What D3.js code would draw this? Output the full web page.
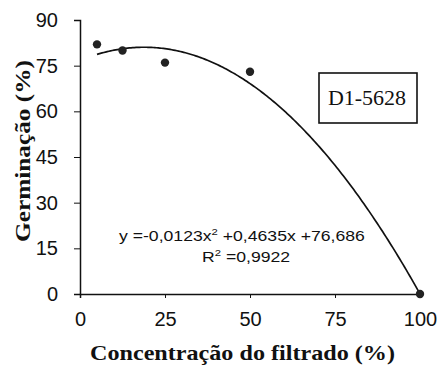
<!DOCTYPE html>
<html><head><meta charset="utf-8">
<script src="https://cdn.jsdelivr.net/npm/d3@7"></script>
<style>body{margin:0;background:#fff}svg{display:block}</style>
</head><body><svg id="c" width="441" height="366"></svg>
<script>
const concentrations = [5, 12.5, 25, 50, 100];
const germination = [82, 80, 76, 73, 0];
const xTicks = [0, 25, 50, 75, 100];
const yTicks = [0, 15, 30, 45, 60, 75, 90];
const coefs = [-0.0123, 0.4635, 76.686];
const fitRange = [5, 100];
const label = "D1-5628";

const svg = d3.select("#c");
const x = d3.scaleLinear().domain([0, 100]).range([80, 420]);
const y = d3.scaleLinear().domain([0, 90]).range([294, 20]);
const sans = "Arial, 'Liberation Sans', sans-serif";
const serif = "'Times New Roman', 'Liberation Serif', serif";

const yAxis = svg.append("g").attr("transform", "translate(80,0)")
  .call(d3.axisLeft(y).tickValues(yTicks).tickSize(6).tickPadding(16));
const xAxis = svg.append("g").attr("transform", "translate(0,294)")
  .call(d3.axisBottom(x).tickValues(xTicks).tickSize(4).tickPadding(14));
[yAxis, xAxis].forEach(a => {
  a.select(".domain").attr("stroke", "#111").attr("stroke-width", 1.5);
  a.selectAll(".tick line").attr("stroke", "#111").attr("stroke-width", 1);
  a.selectAll("text").attr("font-family", sans).attr("font-size", 20).attr("fill", "#111");
});
xAxis.selectAll(".tick").filter(d => d === 0 || d === 100).select("line").remove();

// fitted curve
const fx = xv => coefs[0] * xv * xv + coefs[1] * xv + coefs[2];
const pts = d3.range(fitRange[0], fitRange[1] + 0.001, 0.5).map(v => [v, fx(v)]);
svg.append("path").attr("d", d3.line().x(d => x(d[0])).y(d => y(d[1]))(pts))
  .attr("fill", "none").attr("stroke", "#111").attr("stroke-width", 1.7);

// points
svg.selectAll("circle.p").data(concentrations).join("circle")
  .attr("cx", d => x(d)).attr("cy", (d, i) => y(germination[i])).attr("r", 4.2).attr("fill", "#222");

// label box
svg.append("rect").attr("x", 319).attr("y", 73).attr("width", 98).attr("height", 50)
  .attr("fill", "#fff").attr("stroke", "#111").attr("stroke-width", 1.6);
svg.append("text").attr("x", 367).attr("y", 105).attr("text-anchor", "middle")
  .attr("font-family", serif).attr("font-size", 22).attr("fill", "#111").text(label);

// equation
const eq = svg.append("text").attr("transform", "translate(119,241) scale(1.26,1)")
  .attr("font-family", sans).attr("font-size", 14).attr("fill", "#111");
eq.append("tspan").text("y =-0,0123x");
eq.append("tspan").attr("dy", -6).attr("font-size", 9).text("2");
eq.append("tspan").attr("dy", 6).text(" +0,4635x +76,686");
const r2 = svg.append("text").attr("transform", "translate(202,262) scale(1.26,1)")
  .attr("font-family", sans).attr("font-size", 14).attr("fill", "#111");
r2.append("tspan").text("R");
r2.append("tspan").attr("dy", -6).attr("font-size", 9).text("2");
r2.append("tspan").attr("dy", 6).text(" =0,9922");

// axis titles
svg.append("text").attr("x", 90).attr("y", 360)
  .attr("textLength", 305).attr("lengthAdjust", "spacingAndGlyphs")
  .attr("font-family", serif).attr("font-weight", "bold").attr("font-size", 22).attr("fill", "#111")
  .text("Concentração do filtrado (%)");
svg.append("text").attr("transform", "translate(30,242) rotate(-90)")
  .attr("textLength", 182).attr("lengthAdjust", "spacingAndGlyphs")
  .attr("font-family", serif).attr("font-weight", "bold").attr("font-size", 22).attr("fill", "#111")
  .text("Germinação (%)");
</script></body></html>
